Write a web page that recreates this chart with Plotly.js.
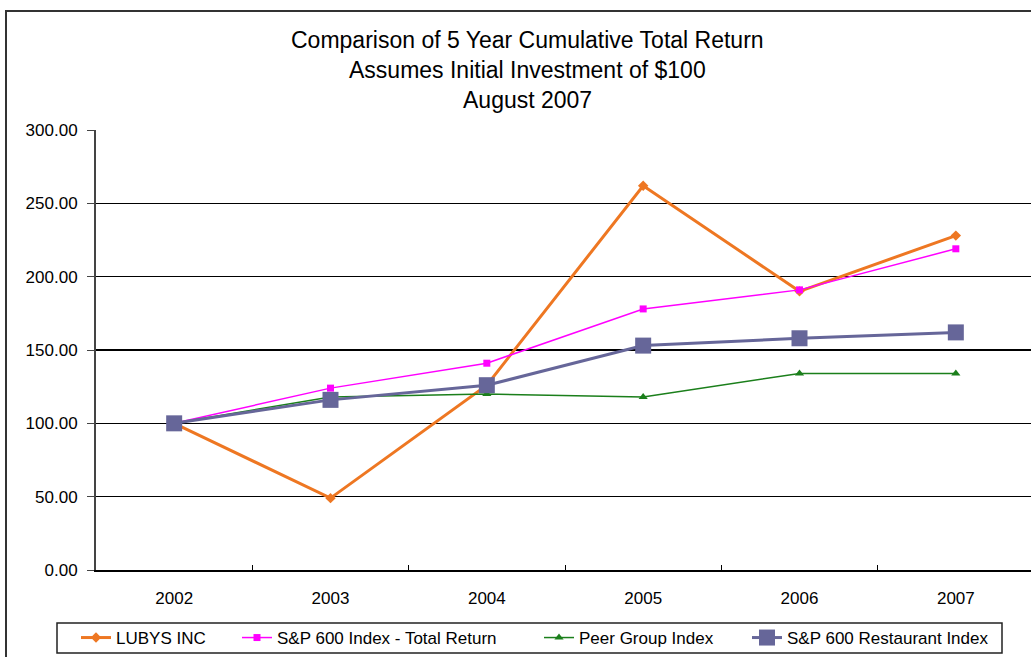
<!DOCTYPE html>
<html><head><meta charset="utf-8">
<script src="https://cdn.plot.ly/plotly-3.0.1.min.js"></script>
<style>
html,body{margin:0;padding:0;overflow:hidden;background:#fff;}
#frame{position:absolute;left:5px;top:10px;width:1100px;height:700px;border:2px solid #333;box-sizing:border-box;pointer-events:none;z-index:5;}
#chart{position:absolute;left:0;top:0;width:1040px;height:700px;}
</style></head>
<body>
<div id="chart"></div>
<div id="frame"></div>
<script>
const years = ['2002','2003','2004','2005','2006','2007'];
const lubys = [100, 49, 126, 262, 190, 228];
const sp600 = [100, 124, 141, 178, 191, 219];
const peer = [100, 118, 120, 118, 134, 134];
const restaurant = [100, 116, 126, 153, 158, 162];
const yTicks = [0, 50, 100, 150, 200, 250, 300];
const yTickText = ['0.00','50.00','100.00','150.00','200.00','250.00','300.00'];
const titleLines = ['Comparison of 5 Year Cumulative Total Return', 'Assumes Initial Investment of $100', 'August 2007'];

// plot-area geometry in px (for placing text/legends)
const L = 96, W = 938, T = 130, H = 440;
const px2x = p => (p - L) / W;
const py2y = p => (T + H - p) / H;

const legendTextX = [117, 278, 580, 788];
const legendNames = ['legend', 'legend2', 'legend3', 'legend4'];

const traces = [
  {x: years, y: lubys, name: 'LUBYS INC', type: 'scatter', mode: 'lines+markers', legend: 'legend',
   line: {color: '#EE7722', width: 3}, marker: {symbol: 'diamond', size: 8, color: '#EE7722'}},
  {x: years, y: sp600, name: 'S&P 600 Index - Total Return', type: 'scatter', mode: 'lines+markers', legend: 'legend2',
   line: {color: '#FF00FF', width: 1.5}, marker: {symbol: 'square', size: 7, color: '#FF00FF'}},
  {x: years, y: peer, name: 'Peer Group Index', type: 'scatter', mode: 'lines+markers', legend: 'legend3',
   line: {color: '#1B7F1B', width: 1.5}, marker: {symbol: 'triangle-up', size: 8, color: '#1B7F1B'}},
  {x: years, y: restaurant, name: 'S&P 600 Restaurant Index', type: 'scatter', mode: 'lines+markers', legend: 'legend4',
   line: {color: '#666699', width: 3}, marker: {symbol: 'square', size: 16, color: '#666699'}}
];

const titleY = [40, 70, 100];
const annotations = titleLines.map((t, i) => ({
  text: t, xref: 'paper', yref: 'paper', x: px2x(527), y: py2y(titleY[i]),
  xanchor: 'center', yanchor: 'middle', showarrow: false, font: {size: 23, color: '#000'}
}));

const layout = {
  width: 1040, height: 700,
  margin: {l: L, r: 1040 - L - W, t: T, b: 700 - T - H},
  paper_bgcolor: '#fff', plot_bgcolor: '#fff',
  font: {family: 'Arial, "Liberation Sans", sans-serif', size: 17, color: '#000'},
  annotations: annotations,
  shapes: [{type: 'rect', xref: 'paper', yref: 'paper', x0: px2x(57), x1: px2x(1002),
    y0: py2y(623), y1: py2y(653), line: {color: '#222', width: 1.5}, fillcolor: 'rgba(0,0,0,0)'}],
  xaxis: {type: 'category', range: [-0.5, 5.5], showgrid: false, zeroline: false,
    showline: true, linecolor: '#000', linewidth: 1.5, ticks: 'inside', tickson: 'boundaries',
    ticklen: 5, tickcolor: '#000', tickfont: {size: 17}, ticklabelstandoff: 12},
  yaxis: {range: [0, 300], tickvals: yTicks, ticktext: yTickText, showgrid: true,
    gridcolor: '#000', gridwidth: 1.5, zeroline: false, showline: true, linecolor: '#444',
    linewidth: 2, ticks: 'outside', ticklen: 7, tickcolor: '#444', tickfont: {size: 17},
    ticklabelstandoff: 6},
  showlegend: true
};
legendNames.forEach((n, i) => {
  layout[n] = {orientation: 'h', x: px2x(legendTextX[i] - 41), xanchor: 'left',
    y: py2y(638), yanchor: 'middle', borderwidth: 0, font: {size: 17},
    bgcolor: 'rgba(0,0,0,0)'};
});
Plotly.newPlot('chart', traces, layout, {displayModeBar: false, staticPlot: true});
</script>
</body></html>
